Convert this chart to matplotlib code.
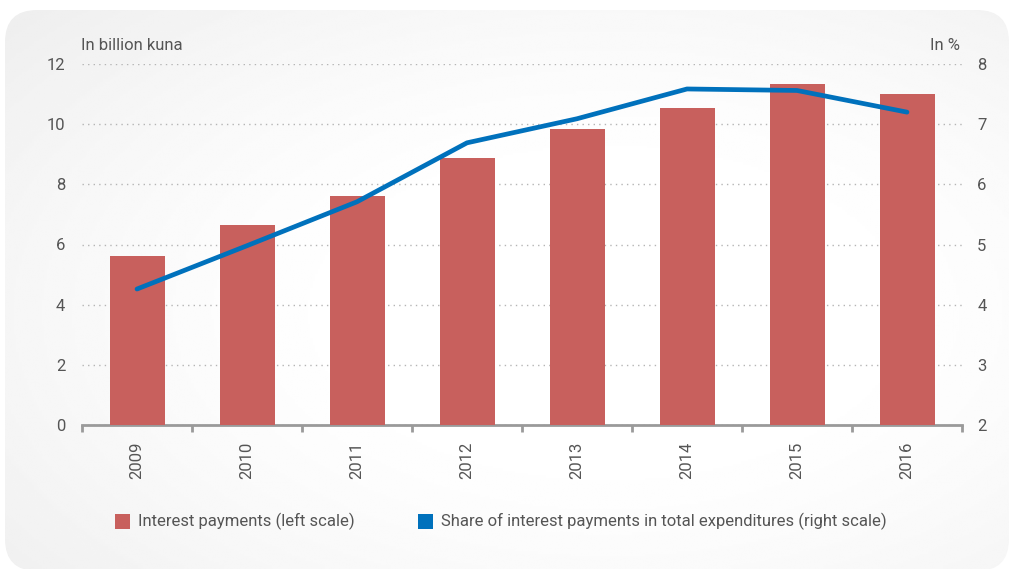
import numpy as np
import matplotlib
matplotlib.use('Agg')
import matplotlib.pyplot as plt
from matplotlib.patches import FancyBboxPatch, Rectangle
from matplotlib.ticker import FixedLocator

plt.rcParams['font.family'] = ['Roboto', 'DejaVu Sans']

# data
years = ['2009', '2010', '2011', '2012', '2013', '2014', '2015', '2016']
interest = [5.62, 6.65, 7.61, 8.88, 9.84, 10.54, 11.34, 11.00]   # billion kuna
share = [4.26, 4.98, 5.71, 6.69, 7.09, 7.585, 7.56, 7.20]        # % of total expenditures

bar_col = '#c8605d'
line_col = '#0071bc'
txt_col = '#555555'
axis_col = '#9a9a9a'
fs = 12

W, H = 1013, 569
fig = plt.figure(figsize=(W / 100, H / 100), dpi=100)
fig.patch.set_facecolor('white')

# rounded panel with soft grey gradient, darker towards the top-left
bg = fig.add_axes([0, 0, 1, 1], zorder=-5)
bg.set_xlim(0, W)
bg.set_ylim(0, H)
bg.axis('off')
gx, gy = np.meshgrid(np.linspace(0, 1, 400), np.linspace(0, 1, 240))
r = np.sqrt(((gx - 0.6) / 0.6) ** 2 + ((gy - 0.45) / 0.6) ** 2)
shade = 1 - 0.07 * np.clip(r - 0.35, 0, 1) ** 1.5
img = bg.imshow(shade, cmap='gray', vmin=0, vmax=1, extent=[0, W, 0, H],
                origin='lower', aspect='auto', interpolation='bilinear')
panel = FancyBboxPatch((5, -2), W - 9, H - 8,
                       boxstyle='round,pad=0,rounding_size=32',
                       transform=bg.transData, facecolor='none', edgecolor='none')
bg.add_patch(panel)
img.set_clip_path(panel)

ax = fig.add_axes([82 / W, 144 / H, 880 / W, 361 / H])
ax.set_facecolor('none')
x = np.arange(len(years))
ax.bar(x, interest, width=0.5, color=bar_col, zorder=3)
ax.set_xlim(-0.5, len(years) - 0.5)
ax.set_ylim(0, 12)
ax.set_yticks(np.arange(0, 13, 2))
ax.yaxis.grid(True, linestyle=(0, (1, 3)), color='#b5b5b5', linewidth=1.0, zorder=0)
ax.set_axisbelow(True)

ax.set_xticks(x)
ax.set_xticklabels(years, rotation=90, color=txt_col, fontsize=fs)
ax.xaxis.set_minor_locator(FixedLocator(np.arange(-0.5, len(years), 1.0)))
ax.tick_params(axis='x', which='major', length=0, pad=12)
ax.tick_params(axis='x', which='minor', length=5, width=2, color=axis_col)
ax.tick_params(axis='y', length=0, pad=12, labelcolor=txt_col, labelsize=fs)
for s in ['top', 'right', 'left']:
    ax.spines[s].set_visible(False)
ax.spines['bottom'].set_color(axis_col)
ax.spines['bottom'].set_linewidth(2)

ax2 = ax.twinx()
ax2.plot(x, share, color=line_col, linewidth=3.4, solid_capstyle='round',
         solid_joinstyle='round', zorder=4)
ax2.set_ylim(2, 8)
ax2.set_yticks(np.arange(2, 9, 1))
ax2.tick_params(axis='y', length=0, pad=11, labelcolor=txt_col, labelsize=fs)
for s in ax2.spines.values():
    s.set_visible(False)

fig.text(81 / W, 1 - 45 / H, 'In billion kuna', color=txt_col, fontsize=fs,
         ha='left', va='center')
fig.text(960 / W, 1 - 45 / H, 'In %', color=txt_col, fontsize=fs,
         ha='right', va='center')

# legend
items = [(115, bar_col, 'Interest payments (left scale)'),
         (418, line_col, 'Share of interest payments in total expenditures (right scale)')]
for px, col, label in items:
    fig.patches.append(Rectangle((px / W, 1 - 529 / H), 15 / W, 15 / H,
                                 transform=fig.transFigure, facecolor=col,
                                 edgecolor='none'))
    fig.text((px + 23) / W, 1 - 521 / H, label, color=txt_col, fontsize=fs,
             ha='left', va='center')

fig.savefig('out.png', dpi=100)
